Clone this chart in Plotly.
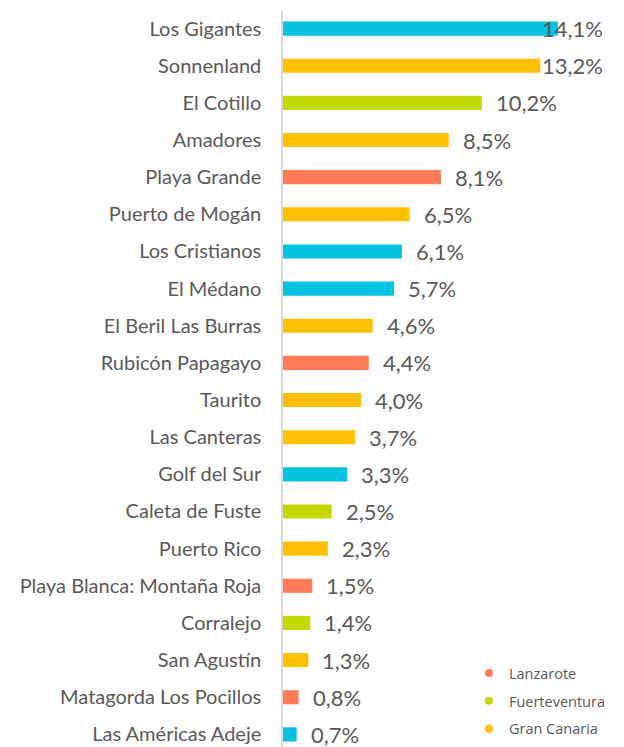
import plotly.graph_objects as go

categories = ["Los Gigantes", "Sonnenland", "El Cotillo", "Amadores", "Playa Grande",
              "Puerto de Mogán", "Los Cristianos", "El Médano", "El Beril Las Burras",
              "Rubicón Papagayo", "Taurito", "Las Canteras", "Golf del Sur",
              "Caleta de Fuste", "Puerto Rico", "Playa Blanca: Montaña Roja",
              "Corralejo", "San Agustín", "Matagorda Los Pocillos", "Las Américas Adeje"]
values = [14.1, 13.2, 10.2, 8.5, 8.1, 6.5, 6.1, 5.7, 4.6, 4.4, 4.0, 3.7, 3.3, 2.5, 2.3,
          1.5, 1.4, 1.3, 0.8, 0.7]
islands = ["Tenerife", "Gran Canaria", "Fuerteventura", "Gran Canaria", "Lanzarote",
           "Gran Canaria", "Tenerife", "Tenerife", "Gran Canaria", "Lanzarote",
           "Gran Canaria", "Gran Canaria", "Tenerife", "Fuerteventura", "Gran Canaria",
           "Lanzarote", "Fuerteventura", "Gran Canaria", "Lanzarote", "Tenerife"]
legend_islands = ["Lanzarote", "Fuerteventura", "Gran Canaria"]
island_colors = {"Tenerife": "#05C3DE", "Gran Canaria": "#FFC000",
                 "Fuerteventura": "#C5D800", "Lanzarote": "#FF7A55"}

XMAX = 17.03
LABEL_MAX = 16.5
TXT = "#595959"

fig = go.Figure()
fig.add_trace(go.Bar(
    x=values, y=categories, orientation="h",
    marker=dict(color=[island_colors[i] for i in islands], line=dict(width=0)),
    showlegend=False, hoverinfo="x+y",
))
for k, isl in enumerate(legend_islands):
    fig.add_trace(go.Scatter(
        x=[None], y=[None], mode="markers", name=isl, legendgroup=f"g{k}",
        marker=dict(color=island_colors[isl], size=8, symbol="circle"),
    ))

for v, c in zip(values, categories):
    label = f"{v:.1f}%".replace(".", ",")
    if v > 12.5:
        fig.add_annotation(x=LABEL_MAX, y=c, text=label, xanchor="right", showarrow=False,
                           font=dict(size=22, color=TXT, family="Lato"))
    else:
        fig.add_annotation(x=v, y=c, text=label, xanchor="left", xshift=12, showarrow=False,
                           font=dict(size=22, color=TXT, family="Lato"))

# right frame line (paper coordinates, spans full height)
fig.add_shape(type="line", xref="paper", yref="paper", x0=1.006, x1=1.006, y0=-0.02, y1=1.02,
              line=dict(color="#C8C8C8", width=2), layer="above")

fig.update_layout(
    width=616, height=739,
    margin=dict(l=275, r=9, t=2, b=0, autoexpand=False),
    paper_bgcolor="white", plot_bgcolor="white",
    bargap=0.62,
    font=dict(family="Lato", color=TXT),
    xaxis=dict(range=[0, XMAX], visible=False, showgrid=False, zeroline=False,
               automargin=False),
    yaxis=dict(type="category", categoryorder="array", categoryarray=categories,
               range=[19.34, -0.5], showline=True, linecolor="#D9D9D9",
               linewidth=1.5, ticks="", showgrid=False, ticklabelstandoff=16,
               automargin=False, tickfont=dict(size=20, color=TXT, family="Lato")),
    legend=dict(x=0.56, y=0.122, xanchor="left", yanchor="top",
                font=dict(size=14.5, color=TXT, family="Open Sans"),
                bgcolor="rgba(0,0,0,0)", tracegroupgap=6, itemwidth=30),
)

fig.write_html("out.html")
